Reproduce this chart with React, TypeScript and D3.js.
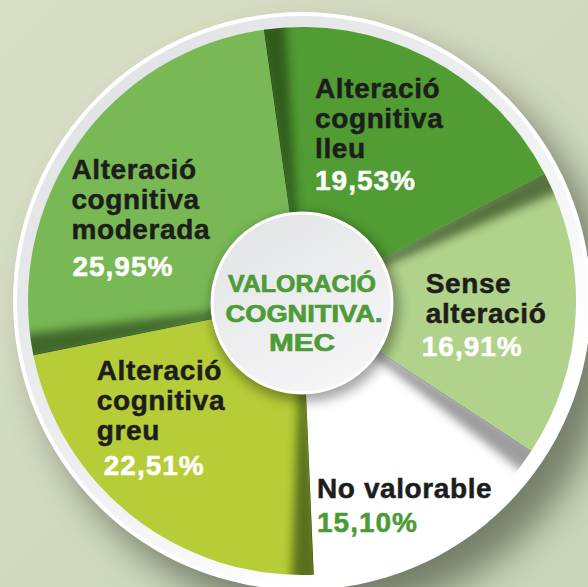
import React from 'react';
import * as d3 from 'd3';

// data (clockwise from the top)
const categories = ['lleu', 'sense', 'novalorable', 'greu', 'moderada'];
const values = [19.53, 16.91, 15.10, 22.51, 25.95];
const labelLines = [
  ['Alteració', 'cognitiva', 'lleu'],
  ['Sense', 'alteració'],
  ['No valorable'],
  ['Alteració', 'cognitiva', 'greu'],
  ['Alteració', 'cognitiva', 'moderada'],
];
const centerTitle = ['VALORACIÓ', 'COGNITIVA.', 'MEC'];

const W = 588;
const H = 587;
const cx = 302;
const cy = 301;
const rOuter = 274;
const rInner = 90;
const rRing = 289;

const colors = ['#519c33', '#b0d28a', '#ffffff', '#b6cd37', '#79b955'];
const pctColors = ['#ffffff', '#ffffff', '#4b9a35', '#ffffff', '#ffffff'];
// label block offsets from the slice centroid: [dx, dy, pct dx, pct gap]
const labelOffset = [
  [-70, -41, 0, 32],
  [-58, -17, -4, 33],
  [-75, 39, 0, 34],
  [-93, -64, 7, 35],
  [-82, -17, 1, 37],
];
const titleWidths = [148, 157, 66];

const fmtPct = (v: number) => v.toFixed(2).replace('.', ',') + '%';

const App = () => {
  const pie = d3.pie<number>()
    .sort(null)
    .startAngle(-8 * Math.PI / 180)
    .endAngle(352 * Math.PI / 180);
  const arcs = pie(values);

  const arc = d3.arc<d3.PieArcDatum<number>>()
    .innerRadius(0)
    .outerRadius(rOuter);
  const midArc = d3.arc<d3.PieArcDatum<number>>()
    .innerRadius(rInner)
    .outerRadius(rOuter);
  // a thin wedge along the start edge, blurred, gives the folded look
  const edgeArc = d3.arc<any>()
    .innerRadius(0)
    .outerRadius(rOuter + 10);

  return (
    <svg width={W} height={H} style={{ position: 'fixed', left: 0, top: 0 }}>
      <defs>
        <filter id="bigBlur" x="-30%" y="-30%" width="160%" height="160%">
          <feGaussianBlur stdDeviation="18" />
        </filter>
        <filter id="edgeBlur" x="-50%" y="-50%" width="200%" height="200%">
          <feGaussianBlur stdDeviation="5" />
        </filter>
        <filter id="smallBlur" x="-30%" y="-30%" width="160%" height="160%">
          <feGaussianBlur stdDeviation="6" />
        </filter>
        <linearGradient id="bg" x1="0" y1="0" x2="1" y2="1">
          <stop offset="0" stopColor="#d7dfc6" />
          <stop offset="1" stopColor="#c9d3b6" />
        </linearGradient>
        <linearGradient id="ringGrad" x1="0.15" y1="0.1" x2="0.75" y2="0.8">
          <stop offset="0" stopColor="#e2e3e6" />
          <stop offset="0.55" stopColor="#eeeff0" />
          <stop offset="1" stopColor="#ffffff" />
        </linearGradient>
        <linearGradient id="centerGrad" x1="0.2" y1="0" x2="0.8" y2="1">
          <stop offset="0" stopColor="#e3e4e7" />
          <stop offset="1" stopColor="#f7f7f8" />
        </linearGradient>
        {arcs.map((a, i) => (
          <clipPath id={'clip-' + categories[i]} key={i}>
            <path d={arc(a) || ''} transform={`translate(${cx},${cy})`} />
          </clipPath>
        ))}
      </defs>

      <rect width={W} height={H} fill="url(#bg)" />
      {/* drop shadow of the disc */}
      <circle cx={cx + 22} cy={cy + 26} r={rRing} fill="#66705b" opacity={0.85} filter="url(#bigBlur)" />
      <circle cx={cx} cy={cy} r={rRing} fill="#ffffff" />
      <circle cx={cx} cy={cy} r={rRing - 4} fill="url(#ringGrad)" />

      <g transform={`translate(${cx},${cy})`}>
        {arcs.map((a, i) => (
          <path key={i} d={arc(a) || ''} fill={colors[i]} />
        ))}
      </g>

      {arcs.map((a, i) => (
        <g key={i} clipPath={`url(#clip-${categories[i]})`}>
          <g transform={`translate(${cx},${cy})`}>
            <path
              d={edgeArc({ startAngle: a.startAngle - 0.02, endAngle: a.startAngle + 0.08 }) || ''}
              fill={i === 2 ? '#3a3a3a' : '#1c3310'}
              opacity={i === 2 ? 0.5 : 0.6}
              filter="url(#edgeBlur)"
            />
            <line
              x1={0}
              y1={0}
              x2={(rOuter + 5) * Math.sin(a.startAngle)}
              y2={-(rOuter + 5) * Math.cos(a.startAngle)}
              stroke="#000"
              strokeOpacity={0.35}
              strokeWidth={1}
            />
          </g>
        </g>
      ))}

      {/* shadow around the centre badge */}
      <circle cx={cx + 3} cy={cy + 7} r={rInner + 4} fill="#000" opacity={0.35} filter="url(#smallBlur)" />
      <circle cx={cx} cy={cy + 2} r={rInner} fill="url(#centerGrad)" stroke="#ffffff" strokeWidth={3} />
      <g
        fontFamily="'Liberation Sans', Arial, sans-serif"
        fontWeight={700}
        fontSize={23}
        fill="#4d9c37"
        stroke="#4d9c37"
        strokeWidth={0.7}
        textAnchor="middle"
      >
        {centerTitle.map((t, i) => (
          <text
            key={t}
            x={cx + (i === 1 ? 2 : 0)}
            y={292 + i * 29.5}
            textLength={titleWidths[i]}
            lengthAdjust="spacingAndGlyphs"
          >
            {t}
          </text>
        ))}
      </g>

      <g fontFamily="'Liberation Sans', Arial, sans-serif" fontWeight={700} fontSize={28} letterSpacing={0.6}>
        {arcs.map((a, i) => {
          const [mx, my] = midArc.centroid(a);
          const [dx, dy, pdx, gap] = labelOffset[i];
          const x = cx + mx + dx;
          const y = cy + my + dy;
          const lines = labelLines[i];
          return (
            <g key={i}>
              {lines.map((l, j) => (
                <text key={j} x={x} y={y + j * 30} fill="#1d1d1b" stroke="#1d1d1b" strokeWidth={0.5}>{l}</text>
              ))}
              <text
                x={x + pdx}
                y={y + (lines.length - 1) * 30 + gap}
                fill={pctColors[i]}
                stroke={pctColors[i]}
                strokeWidth={0.5}
                letterSpacing={1}
              >
                {fmtPct(values[i])}
              </text>
            </g>
          );
        })}
      </g>
    </svg>
  );
};

export default App;
